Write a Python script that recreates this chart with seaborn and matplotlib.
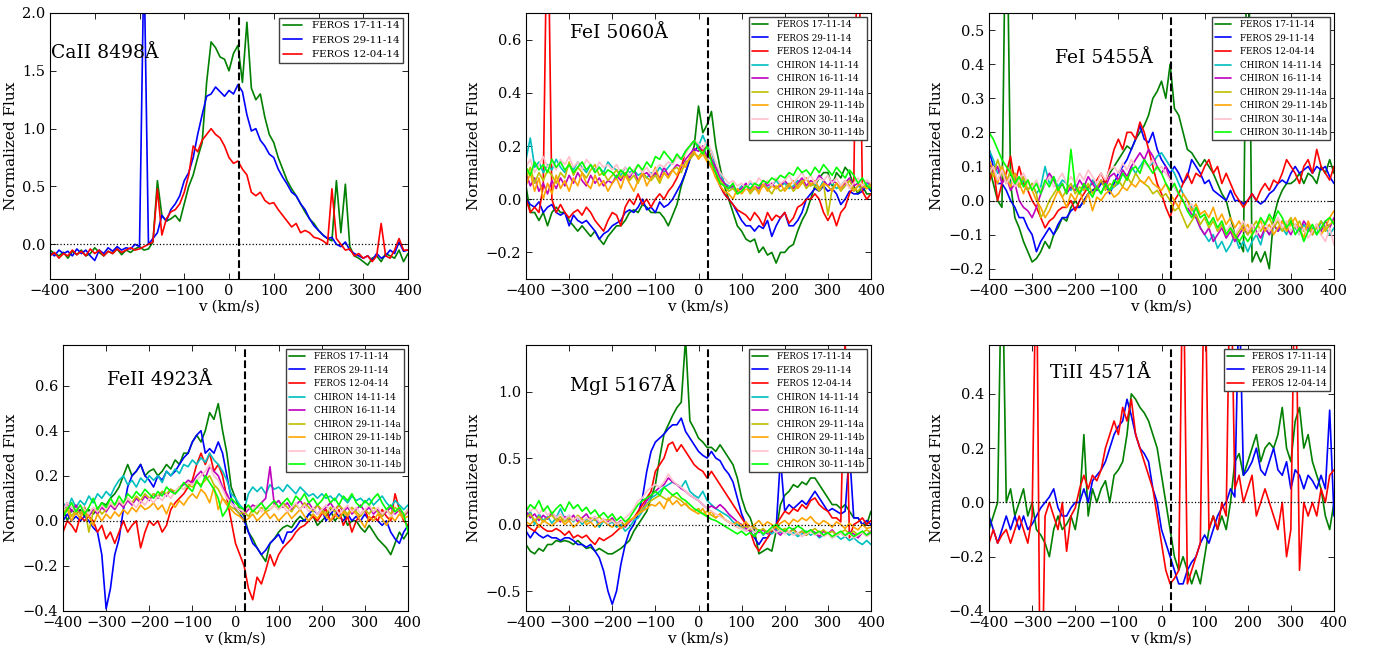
import numpy as np
import pandas as pd
import matplotlib
matplotlib.use("Agg")
import matplotlib.pyplot as plt
import seaborn as sns

# ---------------- data ----------------
V = list(range(-400, 401, 10))  # velocity grid (km/s)

LABELS = ["FEROS 17-11-14", "FEROS 29-11-14", "FEROS 12-04-14",
          "CHIRON 14-11-14", "CHIRON 16-11-14", "CHIRON 29-11-14a",
          "CHIRON 29-11-14b", "CHIRON 30-11-14a", "CHIRON 30-11-14b"]

# ---- CaII 8498
caii_f171114 = [-0.05,-0.08,-0.1,-0.07,-0.12,-0.06,-0.09,-0.05,-0.1,-0.08,
                -0.03,-0.07,-0.1,-0.06,-0.08,-0.04,-0.09,-0.05,-0.07,-0.04,
                -0.02,-0.05,-0.04,0.02,0.55,0.25,0.2,0.22,0.25,0.2,
                0.35,0.5,0.6,0.75,0.88,1.4,1.75,1.7,1.62,1.6,
                1.5,1.65,1.72,1.4,1.92,1.35,1.25,1.3,1.1,0.95,
                0.88,0.75,0.65,0.55,0.48,0.42,0.35,0.28,0.22,0.18,
                0.12,0.08,0.05,0.03,0.55,0.1,0.52,-0.02,-0.1,-0.12,
                -0.15,-0.18,-0.12,-0.1,-0.15,-0.08,-0.1,-0.12,-0.05,-0.15,
                -0.08]
caii_f291114 = [-0.07,-0.1,-0.05,-0.08,-0.06,-0.1,-0.04,-0.08,-0.05,-0.1,
                -0.14,-0.05,-0.08,-0.03,-0.06,-0.02,-0.05,-0.03,-0.04,0.0,
                -0.02,2.5,0.0,0.05,0.1,0.25,0.2,0.3,0.35,0.42,
                0.55,0.62,0.75,0.95,1.12,1.28,1.3,1.36,1.32,1.28,
                1.33,1.3,1.38,1.32,1.12,0.98,1.0,0.9,0.85,0.78,
                0.75,0.65,0.58,0.52,0.45,0.42,0.35,0.3,0.22,0.16,
                0.12,0.08,0.05,0.06,0.0,-0.02,0.02,-0.05,-0.08,-0.1,
                -0.12,-0.1,-0.14,-0.08,-0.12,-0.1,-0.05,-0.08,0.02,-0.06,
                -0.05]
caii_f120414 = [-0.1,-0.07,-0.12,-0.08,-0.1,-0.05,-0.09,-0.06,-0.1,-0.04,
                -0.08,-0.05,-0.1,-0.06,-0.08,-0.04,-0.07,-0.05,-0.03,-0.05,
                -0.04,-0.02,0.0,0.02,0.48,0.08,0.22,0.28,0.3,0.35,
                0.45,0.6,0.85,0.8,0.9,0.95,1.0,0.95,0.92,0.85,
                0.75,0.7,0.72,0.65,0.6,0.45,0.42,0.45,0.38,0.35,
                0.36,0.3,0.25,0.2,0.15,0.18,0.1,0.12,0.1,0.06,
                0.05,0.03,0.0,0.48,0.05,0.0,-0.05,-0.04,-0.1,-0.08,
                -0.12,-0.1,-0.15,-0.1,0.18,-0.1,-0.12,-0.05,0.05,-0.05,
                -0.05]

# ---- FeI 5060
fei5060_f171114 = [0.05,-0.05,-0.05,-0.08,-0.05,-0.1,-0.05,-0.03,-0.05,-0.05,
                   -0.08,-0.1,-0.12,-0.1,-0.12,-0.14,-0.12,-0.15,-0.17,-0.14,
                   -0.12,-0.1,-0.1,-0.08,-0.05,-0.04,-0.05,-0.02,-0.03,-0.05,
                   -0.05,-0.05,-0.07,-0.1,-0.06,-0.02,0.05,0.1,0.15,0.2,
                   0.35,0.25,0.28,0.33,0.2,0.12,0.05,0.0,-0.05,-0.1,
                   -0.12,-0.15,-0.16,-0.15,-0.2,-0.18,-0.21,-0.2,-0.24,-0.2,
                   -0.2,-0.18,-0.17,-0.12,-0.08,-0.05,0.0,0.05,0.08,0.1,
                   0.1,0.05,0.1,0.08,0.12,0.1,0.05,0.02,0.05,0.02,
                   0.02]
fei5060_f291114 = [0.0,-0.02,-0.03,-0.01,-0.05,-0.03,-0.02,-0.05,-0.06,-0.05,
                   -0.1,-0.06,-0.08,-0.09,-0.08,-0.1,-0.12,-0.15,-0.13,-0.12,
                   -0.1,-0.09,-0.08,-0.05,-0.04,-0.05,-0.03,0.0,-0.04,-0.03,
                   -0.05,-0.01,-0.03,-0.02,0.0,0.03,0.06,0.1,0.15,0.18,
                   0.2,0.18,0.15,0.12,0.1,0.05,0.02,0.0,-0.02,-0.05,
                   -0.08,-0.1,-0.1,-0.12,-0.1,-0.11,-0.08,-0.14,-0.1,-0.07,
                   -0.05,-0.1,-0.1,-0.08,-0.05,0.0,0.02,0.04,0.03,0.05,
                   0.03,0.04,0.02,-0.02,0.0,0.03,0.02,0.02,0.03,0.05,
                   0.03]
fei5060_f120414 = [0.0,-0.05,-0.03,-0.05,0.05,1.2,0.0,-0.05,-0.02,-0.05,
                   -0.07,-0.05,-0.04,-0.06,-0.03,-0.05,-0.08,-0.1,-0.12,-0.08,
                   -0.05,-0.06,-0.1,-0.03,0.0,-0.02,0.02,-0.02,0.0,-0.03,
                   0.0,0.02,0.0,0.03,0.05,0.08,0.12,0.18,0.2,0.22,
                   0.2,0.18,0.2,0.15,0.1,0.05,0.02,0.0,-0.02,-0.04,
                   -0.05,-0.06,-0.08,-0.05,-0.07,-0.1,-0.05,-0.08,-0.06,-0.07,
                   -0.05,-0.09,-0.07,-0.03,-0.02,0.0,0.0,0.02,0.0,-0.05,
                   -0.08,-0.05,-0.1,-0.05,-0.03,0.02,0.05,1.2,0.03,0.0,
                   0.02]
fei5060_c141114 = [0.15,0.23,0.12,0.14,0.1,0.13,0.11,0.15,0.12,0.1,
                   0.13,0.11,0.14,0.12,0.1,0.13,0.11,0.12,0.1,0.14,
                   0.12,0.11,0.09,0.12,0.1,0.11,0.09,0.1,0.08,0.1,
                   0.09,0.12,0.1,0.12,0.14,0.16,0.15,0.18,0.2,0.22,
                   0.2,0.24,0.2,0.18,0.12,0.1,0.06,0.05,0.04,0.03,
                   0.05,0.04,0.06,0.05,0.03,0.06,0.04,0.05,0.07,0.05,
                   0.06,0.04,0.05,0.07,0.06,0.08,0.05,0.06,0.04,0.07,
                   0.05,0.06,0.04,0.05,0.07,0.05,0.03,0.05,0.04,0.06,
                   0.05]
fei5060_c161114 = [0.1,0.05,0.08,0.03,0.06,0.02,0.07,0.04,0.08,0.05,
                   0.09,0.06,0.1,0.07,0.05,0.09,0.06,0.08,0.05,0.07,
                   0.06,0.09,0.07,0.1,0.08,0.11,0.07,0.09,0.1,0.08,
                   0.1,0.08,0.12,0.09,0.11,0.13,0.12,0.15,0.17,0.19,
                   0.18,0.2,0.16,0.15,0.12,0.08,0.06,0.04,0.05,0.03,
                   0.04,0.06,0.03,0.05,0.04,0.07,0.05,0.06,0.04,0.05,
                   0.07,0.05,0.04,0.06,0.08,0.05,0.07,0.06,0.09,0.07,
                   0.05,0.07,0.06,0.04,0.06,0.08,0.05,0.06,0.04,0.07,
                   0.05]
fei5060_c291114a = [0.08,0.12,0.06,0.1,0.07,0.11,0.09,0.06,0.1,0.08,
                    0.14,0.09,0.12,0.1,0.08,0.11,0.13,0.09,0.1,0.07,
                    0.09,0.11,0.08,0.1,0.07,0.09,0.06,0.1,0.08,0.07,
                    0.09,0.06,0.1,0.08,0.11,0.12,0.1,0.14,0.15,0.17,
                    0.16,0.18,0.15,0.13,0.1,0.07,0.05,0.03,0.04,0.02,
                    0.03,0.05,0.02,0.04,0.03,0.05,0.04,0.02,0.05,0.03,
                    0.04,0.06,0.03,0.05,0.07,0.04,0.06,0.05,0.03,0.06,
                    -0.06,0.04,0.06,0.03,0.05,0.07,0.04,0.03,0.05,0.04,
                    0.06]
fei5060_c291114b = [0.05,0.1,0.03,0.08,0.0,0.06,0.02,0.09,0.04,0.07,
                    0.03,0.08,0.05,0.1,0.06,0.04,0.09,0.05,0.07,0.03,
                    0.06,0.08,0.04,0.09,0.06,0.03,0.07,0.1,0.05,0.08,
                    0.12,0.07,0.1,0.08,0.11,0.09,0.13,0.12,0.16,0.18,
                    0.15,0.17,0.14,0.12,0.08,0.05,0.03,0.02,0.0,0.04,
                    0.02,0.04,0.03,0.05,0.02,0.06,0.03,0.05,0.04,0.06,
                    0.03,0.05,0.07,0.04,0.06,0.08,0.05,0.07,0.04,0.06,
                    0.05,0.03,0.06,0.04,0.07,0.05,0.03,0.05,0.06,0.04,
                    0.05]
fei5060_c301114a = [0.12,0.15,0.1,0.13,0.16,0.12,0.14,0.11,0.15,0.13,
                    0.16,0.12,0.14,0.11,0.15,0.13,0.1,0.14,0.12,0.13,
                    0.11,0.13,0.1,0.12,0.09,0.11,0.13,0.1,0.12,0.09,
                    0.11,0.13,0.12,0.14,0.13,0.16,0.15,0.17,0.2,0.22,
                    0.21,0.19,0.22,0.18,0.14,0.1,0.08,0.06,0.07,0.05,
                    0.06,0.04,0.07,0.05,0.08,0.06,0.07,0.05,0.08,0.06,
                    0.07,0.09,0.06,0.08,0.1,0.07,0.09,0.06,0.08,0.07,
                    0.09,0.06,0.08,0.05,0.07,0.04,0.06,0.08,0.05,0.07,
                    0.06]
fei5060_c301114b = [0.12,0.09,0.14,0.11,0.13,0.1,0.15,0.12,0.14,0.11,
                    0.13,0.1,0.12,0.14,0.11,0.13,0.1,0.12,0.09,0.11,
                    0.1,0.08,0.11,0.09,0.12,0.1,0.13,0.11,0.14,0.12,
                    0.16,0.15,0.18,0.16,0.14,0.17,0.15,0.18,0.2,0.22,
                    0.19,0.17,0.2,0.14,0.1,0.06,0.05,0.04,0.06,0.02,
                    0.03,0.05,0.04,0.06,0.05,0.07,0.06,0.08,0.07,0.09,
                    0.08,0.1,0.09,0.12,0.1,0.11,0.09,0.12,0.1,0.13,
                    0.11,0.09,0.12,0.1,0.08,0.11,0.09,0.06,0.08,0.05,
                    0.04]

# ---- FeI 5455
fei5455_f171114 = [0.1,0.05,0.0,-0.02,1.0,0.05,-0.05,-0.08,-0.12,-0.15,
                   -0.18,-0.17,-0.15,-0.12,-0.14,-0.1,-0.08,-0.05,-0.06,-0.02,
                   0.0,-0.02,0.0,0.02,0.03,0.04,0.05,0.06,0.08,0.1,
                   0.12,0.14,0.16,0.15,0.18,0.2,0.22,0.25,0.3,0.32,
                   0.35,0.3,0.4,0.27,0.25,0.2,0.15,0.14,0.12,0.1,
                   0.12,0.1,0.08,0.05,0.02,0.0,-0.05,-0.1,-0.12,-0.15,
                   1.0,-0.18,-0.15,-0.18,-0.15,-0.2,-0.05,0.0,0.03,0.05,
                   0.05,0.06,0.08,0.05,0.08,0.07,0.05,0.1,0.08,0.12,
                   0.08]
fei5455_f291114 = [0.15,0.1,0.05,0.05,0.03,0.0,-0.02,-0.05,-0.05,-0.08,
                   -0.1,-0.15,-0.12,-0.1,-0.08,-0.1,-0.07,-0.05,-0.05,-0.03,
                   -0.02,-0.02,0.0,0.02,0.03,0.03,0.05,0.05,0.02,0.05,
                   0.08,0.1,0.12,0.15,0.18,0.22,0.18,0.17,0.2,0.15,
                   0.12,0.1,0.08,0.1,0.08,0.05,0.07,0.12,0.1,0.08,
                   0.05,0.06,0.03,0.02,0.01,0.0,0.03,0.0,0.0,-0.01,
                   0.0,0.02,0.0,-0.01,0.0,0.02,0.03,0.05,0.06,0.05,
                   0.08,0.1,0.08,0.09,0.1,0.08,0.1,0.09,0.1,0.07,
                   0.05]
fei5455_f120414 = [0.05,0.1,0.0,0.05,0.08,0.13,0.05,0.1,0.05,0.03,
                   0.0,-0.02,-0.05,-0.08,-0.06,-0.05,-0.03,-0.02,-0.02,0.0,
                   -0.03,0.0,0.02,0.04,0.05,0.06,0.08,0.05,0.1,0.15,
                   0.18,0.15,0.2,0.2,0.18,0.23,0.2,0.15,0.1,0.05,
                   0.02,-0.02,-0.05,0.0,0.02,0.05,0.08,0.05,0.08,0.07,
                   0.1,0.12,0.08,0.1,0.05,0.08,0.05,0.02,0.0,-0.02,
                   0.0,0.02,0.0,0.03,0.05,0.03,0.06,0.05,0.08,0.12,
                   0.1,0.08,0.05,0.1,0.12,0.08,0.15,0.1,0.08,0.06,
                   0.1]
fei5455_c141114 = [0.15,0.12,0.08,0.1,0.06,0.05,0.08,0.04,0.06,0.03,
                   0.05,0.02,0.04,0.1,0.05,0.07,0.04,0.06,0.05,0.03,
                   0.05,0.02,0.04,0.03,0.06,0.04,0.02,0.05,0.03,0.04,
                   0.05,0.08,0.06,0.1,0.08,0.1,0.12,0.1,0.11,0.13,
                   0.14,0.12,0.1,0.08,0.05,0.02,0.0,-0.02,-0.05,-0.08,
                   -0.1,-0.12,-0.1,-0.14,-0.12,-0.15,-0.13,-0.1,-0.14,-0.12,
                   -0.15,-0.12,-0.1,-0.13,-0.08,-0.1,-0.07,-0.09,-0.08,-0.1,
                   -0.06,-0.08,-0.1,-0.07,-0.09,-0.08,-0.1,-0.06,-0.08,-0.1,
                   -0.08]
fei5455_c161114 = [0.12,0.08,0.1,0.05,0.07,0.03,0.05,0.0,-0.02,-0.03,
                   -0.05,-0.02,0.02,0.05,0.08,0.06,0.03,0.05,0.02,0.04,
                   0.03,0.06,0.04,0.07,0.05,0.03,0.06,0.04,0.07,0.08,
                   0.06,0.09,0.07,0.1,0.12,0.14,0.12,0.15,0.13,0.1,
                   0.08,0.1,0.06,0.04,0.02,0.0,-0.02,-0.04,-0.05,-0.08,
                   -0.1,-0.08,-0.12,-0.1,-0.08,-0.11,-0.09,-0.12,-0.1,-0.08,
                   -0.1,-0.07,-0.09,-0.11,-0.08,-0.1,-0.07,-0.09,-0.06,-0.08,
                   -0.1,-0.07,-0.09,-0.06,-0.08,-0.1,-0.07,-0.09,-0.06,-0.08,
                   -0.05]
fei5455_c291114a = [0.1,0.07,0.12,0.08,0.05,0.09,0.06,0.04,0.07,0.03,
                    0.05,0.02,-0.05,-0.03,0.0,0.02,0.04,0.01,0.03,0.05,
                    0.02,0.04,0.03,0.05,0.02,0.04,0.06,0.03,0.05,0.04,
                    0.06,0.04,0.07,0.05,0.08,0.06,0.05,0.04,0.02,0.03,
                    0.01,0.02,0.0,-0.03,-0.02,-0.05,-0.08,-0.06,-0.04,-0.07,
                    -0.05,-0.08,-0.06,-0.09,-0.07,-0.1,-0.08,-0.11,-0.09,-0.07,
                    -0.1,-0.08,-0.06,-0.09,-0.07,-0.05,-0.08,-0.06,-0.09,-0.07,
                    -0.05,-0.08,-0.06,-0.09,-0.07,-0.1,-0.08,-0.06,-0.09,-0.07,
                    -0.06]
fei5455_c291114b = [0.12,0.09,0.05,0.1,0.07,0.04,0.08,0.05,0.02,0.06,
                    0.03,0.0,-0.02,-0.05,-0.03,0.0,0.03,0.01,-0.02,0.02,
                    0.0,0.03,-0.01,0.02,-0.03,0.01,0.0,0.02,0.03,0.01,
                    0.02,0.04,0.03,0.05,0.04,0.06,0.05,0.07,0.05,0.04,
                    0.03,0.05,0.02,0.0,-0.02,0.02,0.0,-0.03,-0.01,-0.04,
                    -0.03,-0.05,-0.02,-0.06,-0.04,-0.07,-0.05,-0.08,-0.06,-0.09,
                    -0.07,-0.1,-0.08,-0.06,-0.09,-0.07,-0.1,-0.08,-0.06,-0.09,
                    -0.07,-0.05,-0.08,-0.11,-0.06,-0.09,-0.07,-0.1,-0.08,-0.05,
                    -0.03]
fei5455_c301114a = [0.08,0.1,0.06,0.09,0.05,0.07,0.04,0.06,0.08,0.05,
                    0.04,0.06,0.03,0.05,0.07,0.04,0.06,0.08,0.05,0.07,
                    0.05,0.08,0.06,0.09,0.07,0.05,0.08,0.06,0.09,0.1,
                    0.08,0.11,0.09,0.12,0.1,0.08,0.11,0.1,0.12,0.09,
                    0.1,0.08,0.06,0.04,0.02,0.0,-0.02,-0.01,-0.03,-0.05,
                    -0.04,-0.07,-0.05,-0.08,-0.06,-0.09,-0.07,-0.1,-0.08,-0.06,
                    -0.09,-0.07,-0.1,-0.08,-0.06,-0.09,-0.07,-0.05,-0.08,-0.06,
                    -0.09,-0.07,-0.1,-0.08,-0.11,-0.09,-0.07,-0.1,-0.12,-0.08,
                    -0.13]
fei5455_c301114b = [0.2,0.18,0.15,0.12,0.1,0.08,0.05,0.07,0.04,0.06,
                    0.03,0.05,0.02,0.06,0.04,0.07,0.03,0.05,0.02,0.15,
                    0.04,0.02,0.05,0.03,0.01,0.04,0.02,0.05,0.03,0.06,
                    0.05,0.08,0.06,0.09,0.1,0.08,0.12,0.1,0.08,0.1,
                    0.08,0.05,0.03,0.05,0.02,0.0,-0.03,-0.05,-0.02,-0.05,
                    -0.04,-0.07,-0.05,-0.08,-0.06,-0.1,-0.08,-0.1,-0.12,-0.1,
                    -0.12,-0.1,-0.08,-0.05,-0.07,-0.04,-0.06,-0.03,-0.05,-0.08,
                    -0.06,-0.1,-0.08,-0.12,-0.09,-0.07,-0.1,-0.08,-0.06,-0.05,
                    -0.07]

# ---- FeII 4923
feii_f171114 = [0.05,0.0,0.05,0.03,0.05,0.02,0.05,0.03,0.05,0.08,
                0.07,0.1,0.12,0.15,0.2,0.25,0.2,0.22,0.25,0.2,
                0.22,0.23,0.2,0.22,0.25,0.23,0.27,0.25,0.3,0.3,
                0.35,0.38,0.35,0.4,0.48,0.45,0.52,0.4,0.3,0.15,
                0.1,0.05,0.02,-0.05,-0.08,-0.12,-0.15,-0.18,-0.1,-0.08,
                -0.05,-0.03,-0.02,-0.03,0.0,0.02,0.0,0.03,0.02,-0.02,
                0.0,0.02,0.05,0.0,0.02,0.03,-0.02,0.0,0.0,-0.03,
                -0.05,-0.02,-0.05,-0.08,-0.1,-0.12,-0.15,-0.1,-0.05,-0.08,
                -0.05]
feii_f291114 = [0.0,0.03,0.0,0.02,0.0,0.02,0.0,-0.03,-0.05,-0.15,
                -0.39,-0.3,-0.15,-0.08,0.05,0.15,0.2,0.22,0.25,0.2,
                0.18,0.15,0.2,0.18,0.22,0.2,0.22,0.25,0.28,0.3,
                0.35,0.38,0.4,0.3,0.32,0.3,0.35,0.3,0.2,0.1,
                0.05,0.03,0.0,-0.05,-0.1,-0.12,-0.15,-0.13,-0.1,-0.08,
                -0.06,-0.1,-0.05,-0.05,-0.03,0.0,0.0,0.03,0.05,0.03,
                0.05,0.0,0.03,0.05,0.02,0.0,0.03,0.0,0.02,0.0,
                0.03,0.0,0.02,0.0,-0.02,0.0,-0.05,-0.08,-0.1,-0.05,
                -0.02]
feii_f120414 = [-0.05,0.0,-0.02,-0.05,0.02,0.0,0.02,0.0,-0.05,-0.02,
                -0.08,-0.05,-0.1,-0.05,0.0,-0.05,-0.02,0.0,-0.12,-0.05,
                0.0,-0.02,0.0,-0.05,-0.02,0.05,0.08,0.1,0.12,0.15,
                0.18,0.25,0.3,0.25,0.3,0.22,0.25,0.2,0.1,0.0,
                -0.1,-0.15,-0.2,-0.3,-0.35,-0.25,-0.28,-0.22,-0.15,-0.2,
                -0.15,-0.12,-0.1,-0.08,-0.05,-0.03,-0.02,0.0,0.02,0.0,
                0.03,0.05,0.0,0.02,0.05,-0.02,0.02,-0.05,0.0,0.03,
                0.05,0.0,0.02,0.0,0.05,0.02,0.0,0.12,0.05,0.0,
                -0.02]
feii_c141114 = [0.08,0.05,0.1,0.06,0.09,0.07,0.11,0.08,0.12,0.1,
                0.13,0.11,0.15,0.18,0.2,0.16,0.18,0.15,0.19,0.17,
                0.2,0.18,0.2,0.17,0.22,0.2,0.23,0.21,0.25,0.24,
                0.27,0.25,0.28,0.26,0.3,0.27,0.25,0.22,0.18,0.12,
                0.1,0.07,0.05,0.12,0.15,0.13,0.15,0.12,0.16,0.14,
                0.15,0.13,0.16,0.14,0.12,0.15,0.13,0.11,0.12,0.1,
                0.12,0.1,0.11,0.09,0.12,0.1,0.08,0.11,0.09,0.1,
                0.08,0.1,0.07,0.09,0.11,0.08,0.06,0.09,0.07,0.05,
                0.07]
feii_c161114 = [0.05,0.08,0.04,0.07,0.03,0.06,0.02,0.05,0.03,0.06,
                0.04,0.07,0.05,0.08,0.06,0.09,0.07,0.1,0.08,0.11,
                0.09,0.12,0.1,0.13,0.11,0.14,0.12,0.15,0.16,0.18,
                0.17,0.2,0.22,0.19,0.24,0.22,0.2,0.15,0.12,0.08,
                0.06,0.05,0.03,0.05,0.07,0.06,0.08,0.1,0.24,0.07,
                0.09,0.06,0.08,0.05,0.07,0.09,0.06,0.08,0.05,0.07,
                0.04,0.06,0.08,0.05,0.07,0.04,0.06,0.03,0.05,0.07,
                0.04,0.06,0.03,0.05,0.02,0.04,0.06,0.03,0.05,0.02,
                0.04]
feii_c291114a = [0.03,0.06,0.02,0.05,0.03,0.06,-0.05,0.04,0.06,0.03,
                 0.05,0.08,0.06,0.09,0.07,0.1,0.08,0.11,0.09,0.12,
                 0.1,0.12,0.11,0.13,0.12,0.14,0.13,0.15,0.14,0.16,
                 0.15,0.17,0.16,0.18,0.2,0.16,0.14,0.1,0.08,0.06,
                 0.05,0.03,0.04,0.02,0.05,0.03,0.06,0.04,0.05,0.07,
                 0.05,0.08,0.06,0.04,0.07,0.05,0.08,0.06,0.04,0.07,
                 0.05,0.03,0.06,0.04,0.07,0.05,0.03,0.06,0.04,0.02,
                 0.05,0.03,0.06,0.04,0.02,0.05,0.03,0.06,0.04,0.02,
                 0.05]
feii_c291114b = [0.02,0.05,0.0,0.04,0.01,0.05,0.02,-0.02,0.03,0.0,
                 0.03,0.01,0.04,0.02,0.05,0.03,0.06,0.04,0.07,0.05,
                 0.06,0.08,0.05,0.07,0.03,0.08,0.06,0.09,0.07,0.1,
                 0.12,0.1,0.14,0.12,0.08,0.15,0.05,0.1,0.07,0.05,
                 0.03,0.02,0.0,0.01,0.03,0.0,0.02,0.04,0.01,0.03,
                 0.0,0.02,0.04,0.01,0.03,0.05,0.02,0.0,0.03,0.01,
                 0.04,0.02,0.0,0.03,0.01,0.04,0.02,0.05,0.03,0.0,
                 -0.03,0.02,0.0,0.03,0.01,-0.02,0.02,0.0,0.03,0.01,
                 0.02]
feii_c301114a = [0.05,0.08,0.06,0.04,0.07,0.05,0.03,0.06,0.04,0.07,
                 0.05,0.08,0.06,0.09,0.07,0.1,0.08,0.06,0.09,0.07,
                 0.1,0.08,0.11,0.09,0.12,0.1,0.13,0.15,0.14,0.17,
                 0.16,0.18,0.2,0.22,0.25,0.2,0.18,0.14,0.1,0.08,
                 0.06,0.05,0.04,0.06,0.05,0.07,0.04,0.06,0.05,0.07,
                 0.05,0.07,0.04,0.06,0.08,0.05,0.07,0.04,0.06,0.03,
                 0.05,0.07,0.04,0.06,0.03,0.05,0.07,0.04,0.06,0.03,
                 0.05,0.07,0.04,0.06,0.03,0.05,0.02,0.04,0.06,0.03,
                 0.05]
feii_c301114b = [0.02,0.05,0.08,0.04,0.07,0.03,0.06,0.1,0.05,0.08,
                 0.06,0.1,0.07,0.11,0.08,0.12,0.1,0.13,0.11,0.14,
                 0.12,0.1,0.13,0.11,0.15,0.13,0.12,0.14,0.17,0.15,
                 0.13,0.18,0.15,0.2,0.17,0.14,0.1,0.02,0.05,0.1,
                 0.08,0.06,0.05,0.07,0.04,0.06,0.08,0.05,0.07,0.09,
                 0.06,0.08,0.1,0.07,0.11,0.09,0.12,0.08,0.1,0.07,
                 0.09,0.12,0.08,0.1,0.07,0.11,0.09,0.12,0.08,0.06,
                 0.09,0.07,0.1,0.12,0.08,0.05,0.07,0.04,0.06,0.03,
                 -0.05]

# ---- MgI 5167
mgi_f171114 = [-0.15,-0.2,-0.22,-0.18,-0.2,-0.15,-0.15,-0.12,-0.13,-0.12,
               -0.13,-0.15,-0.12,-0.15,-0.18,-0.17,-0.2,-0.18,-0.2,-0.22,
               -0.22,-0.2,-0.18,-0.15,-0.12,-0.05,0.0,0.05,0.1,0.2,
               0.3,0.5,0.68,0.75,0.82,0.88,0.92,1.4,0.78,0.72,
               0.65,0.62,0.58,0.58,0.55,0.6,0.55,0.5,0.45,0.35,
               0.2,0.1,0.05,-0.05,-0.22,-0.2,-0.18,-0.2,-0.05,0.15,
               0.22,0.25,0.3,0.28,0.32,0.3,0.35,0.35,0.3,0.25,
               0.2,0.15,0.15,0.12,0.15,0.1,0.05,0.05,0.0,0.0,
               0.1]
mgi_f291114 = [-0.05,-0.1,-0.05,-0.08,-0.1,-0.08,-0.1,-0.1,-0.12,-0.1,
               -0.1,-0.12,-0.15,-0.15,-0.17,-0.15,-0.2,-0.25,-0.35,-0.5,
               -0.6,-0.5,-0.3,-0.15,-0.05,0.0,0.08,0.2,0.4,0.55,
               0.62,0.65,0.68,0.72,0.75,0.75,0.8,0.7,0.65,0.6,
               0.55,0.52,0.5,0.55,0.5,0.48,0.42,0.38,0.32,0.2,
               0.08,0.0,-0.05,-0.1,-0.15,-0.1,-0.1,-0.05,-0.03,0.5,
               0.1,0.15,0.12,0.15,0.18,0.15,0.2,0.25,0.2,0.15,
               0.1,0.12,0.1,0.08,0.1,0.55,0.05,0.05,0.0,0.03,
               0.0]
mgi_f120414 = [0.0,-0.03,-0.05,0.0,-0.03,-0.05,-0.05,-0.03,-0.05,-0.08,
               -0.05,-0.1,-0.08,-0.1,-0.08,-0.12,-0.15,-0.1,-0.12,-0.1,
               -0.08,-0.05,-0.02,0.0,0.03,0.05,0.1,0.15,0.2,0.25,
               0.4,0.45,0.5,0.6,0.62,0.55,0.6,0.55,0.5,0.45,
               0.42,0.4,0.35,0.4,0.35,0.3,0.25,0.2,0.15,0.1,
               0.05,0.0,-0.05,-0.15,-0.2,-0.15,-0.1,-0.05,0.0,0.05,
               0.1,0.08,0.12,0.1,0.15,0.12,0.18,0.2,0.15,0.12,
               0.1,0.05,0.05,0.02,1.4,-0.1,0.0,0.02,0.05,0.0,
               0.03]
mgi_c141114 = [0.05,0.1,0.0,0.08,0.03,0.06,0.01,0.05,0.12,0.04,
               0.07,0.02,0.06,0.0,0.04,0.02,0.05,-0.02,0.03,0.0,
               0.02,-0.02,0.0,-0.05,-0.02,0.03,0.05,0.1,0.15,0.2,
               0.22,0.25,0.28,0.3,0.32,0.3,0.28,0.33,0.25,0.22,
               0.2,0.25,0.18,0.15,0.12,0.1,0.08,0.06,0.02,0.0,
               -0.02,-0.05,-0.03,-0.06,-0.04,-0.08,-0.05,-0.07,-0.04,-0.06,
               -0.05,-0.08,-0.06,-0.09,-0.07,-0.05,-0.08,-0.06,-0.1,-0.08,
               -0.06,-0.1,-0.08,-0.11,-0.09,-0.12,-0.1,-0.13,-0.15,-0.12,
               -0.15]
mgi_c161114 = [0.1,0.05,0.08,0.03,0.07,0.04,0.09,0.05,0.02,0.06,
               0.03,0.07,0.02,0.05,0.08,0.03,0.06,0.01,0.04,0.02,
               0.05,0.0,0.03,-0.02,0.02,0.05,0.08,0.12,0.18,0.22,
               0.25,0.28,0.3,0.35,0.32,0.3,0.27,0.25,0.22,0.2,
               0.18,0.15,0.12,0.14,0.12,0.15,0.12,0.08,0.05,0.02,
               0.0,-0.03,-0.05,-0.02,-0.06,-0.04,-0.07,-0.03,-0.05,-0.08,
               -0.04,-0.06,-0.03,-0.07,-0.05,-0.08,-0.04,-0.06,-0.09,-0.05,
               -0.07,-0.04,-0.08,-0.06,-0.09,-0.05,-0.07,-0.1,-0.06,-0.08,
               -0.05]
mgi_c291114a = [0.05,0.08,0.03,0.06,0.02,0.05,0.07,0.03,0.06,0.02,
                0.05,0.03,0.07,0.04,0.02,0.05,0.03,0.06,0.02,0.04,
                0.03,0.0,0.02,-0.01,0.03,0.05,0.08,0.12,0.15,0.18,
                0.2,0.22,0.2,0.18,0.22,0.2,0.18,0.15,0.12,0.1,
                0.12,0.08,0.1,0.07,0.05,0.08,0.04,0.02,0.0,-0.02,
                -0.03,-0.01,-0.04,-0.02,-0.05,-0.03,-0.06,-0.04,-0.02,-0.05,
                -0.03,-0.06,-0.04,-0.07,-0.05,-0.08,-0.05,-0.03,-0.06,-0.04,
                -0.07,-0.05,-0.08,-0.06,-0.04,-0.07,-0.05,-0.08,-0.06,-0.04,
                -0.06]
mgi_c291114b = [0.02,0.0,0.04,-0.02,0.03,0.01,-0.01,0.02,0.04,0.0,
                0.03,-0.02,0.01,0.04,0.0,0.02,-0.02,0.01,0.03,0.0,
                -0.02,0.01,-0.03,0.0,0.03,0.05,0.08,0.1,0.12,0.15,
                0.14,0.17,0.12,0.2,0.15,0.18,0.14,0.16,0.12,0.1,
                0.08,0.12,0.06,0.1,0.05,0.08,0.04,0.02,0.0,0.02,
                -0.01,0.02,-0.02,0.0,0.03,-0.01,0.02,0.0,-0.02,0.01,
                0.03,0.0,0.04,0.02,0.05,0.03,0.06,0.02,0.0,0.03,
                0.01,-0.02,0.02,0.0,-0.03,0.01,-0.02,-0.04,0.0,-0.03,
                -0.02]
mgi_c301114a = [0.15,0.1,0.13,0.08,0.12,0.07,0.1,0.05,0.08,0.04,
                0.07,0.03,0.06,0.02,0.05,0.03,0.06,0.02,0.04,0.01,
                0.03,0.0,0.02,0.05,0.08,0.12,0.18,0.2,0.25,0.28,
                0.3,0.28,0.32,0.38,0.33,0.3,0.28,0.25,0.22,0.2,
                0.18,0.15,0.12,0.1,0.08,0.06,0.04,0.02,0.0,-0.02,
                -0.03,-0.05,-0.02,-0.06,-0.04,-0.07,-0.05,-0.03,-0.06,-0.04,
                -0.07,-0.05,-0.08,-0.06,-0.09,-0.07,-0.05,-0.08,-0.06,-0.09,
                -0.07,-0.1,-0.08,-0.06,-0.09,-0.07,-0.1,-0.08,-0.06,-0.09,
                -0.07]
mgi_c301114b = [0.1,0.15,0.12,0.18,0.1,0.14,0.08,0.12,0.15,0.1,
                0.17,0.12,0.15,0.1,0.13,0.08,0.11,0.06,0.09,0.05,
                0.08,0.03,0.06,0.02,0.05,0.1,0.15,0.18,0.2,0.22,
                0.25,0.22,0.28,0.25,0.22,0.24,0.2,0.18,0.15,0.12,
                0.1,0.08,0.06,0.04,0.03,0.01,-0.01,-0.03,-0.05,-0.07,
                -0.05,-0.08,-0.06,-0.09,-0.04,-0.07,-0.05,-0.02,0.0,-0.03,
                -0.05,-0.02,-0.04,-0.01,-0.03,-0.06,-0.04,-0.07,-0.05,-0.08,
                -0.06,-0.09,-0.07,-0.05,-0.08,-0.06,-0.09,-0.07,-0.05,-0.08,
                -0.06]

# ---- TiII 4571
tiii_f171114 = [-0.1,-0.05,0.0,1.0,0.0,0.05,-0.05,0.0,0.05,-0.05,
                0.0,-0.1,-0.12,-0.15,-0.2,-0.1,-0.05,-0.1,-0.08,-0.05,
                -0.1,0.0,0.25,-0.05,0.05,0.0,0.05,0.08,0.0,0.1,
                0.12,0.15,0.25,0.4,0.38,0.35,0.33,0.3,0.25,0.2,
                0.1,0.0,-0.1,-0.2,-0.25,-0.2,-0.25,-0.3,-0.25,-0.3,
                -0.2,-0.1,-0.05,-0.1,-0.05,-0.1,0.0,0.15,0.18,0.1,
                0.15,0.2,0.25,0.15,0.2,0.22,0.2,0.25,0.35,0.2,
                0.15,0.3,0.35,0.2,0.25,0.15,0.1,0.05,-0.05,-0.1,
                0.0]
tiii_f291114 = [-0.05,-0.1,-0.15,-0.1,-0.05,-0.1,-0.05,-0.1,-0.05,-0.1,
                -0.08,-0.05,-0.02,0.0,0.02,0.05,-0.02,-0.05,-0.05,-0.02,
                0.0,0.0,0.05,0.0,0.08,0.1,0.12,0.15,0.2,0.25,
                0.28,0.3,0.38,0.32,0.25,0.2,0.18,0.15,0.05,0.0,
                -0.1,-0.15,-0.2,-0.25,-0.3,-0.3,-0.25,-0.22,-0.2,-0.15,
                -0.12,-0.15,-0.1,-0.05,-0.02,0.0,0.05,0.02,0.8,0.1,
                0.12,0.15,0.2,0.12,0.1,0.15,0.2,0.12,0.1,0.15,
                0.05,0.12,0.1,0.05,0.1,0.08,0.05,0.1,0.05,0.34,
                -0.05]
tiii_f120414 = [-0.15,-0.1,-0.15,-0.12,-0.1,-0.15,-0.1,-0.05,-0.1,-0.15,
                -0.05,1.0,-1.0,-0.05,0.0,-0.05,-0.1,0.0,-0.18,-0.05,
                -0.02,0.05,0.1,0.05,0.1,0.08,0.12,0.2,0.25,0.3,
                0.25,0.35,0.3,0.38,0.25,0.2,0.15,0.1,0.05,-0.05,
                -0.15,-0.25,-0.3,-0.28,-0.25,1.0,-0.3,-0.25,-0.2,-0.15,
                1.0,-0.1,-0.05,-0.1,0.0,-0.05,1.0,0.05,0.1,0.0,
                0.05,0.1,-0.05,0.0,0.05,0.0,-0.05,-0.1,0.0,-0.2,
                -0.1,1.0,-0.25,0.0,-0.05,0.0,-0.05,0.05,0.0,0.1,
                0.12]

COLORS = ["#008000", "#0000ff", "#ff0000", "#00bfbf", "#bf00bf",
          "#bfbf00", "#ffa500", "#ffc0cb", "#00ff00"]

PANELS = [
    ("CaII 8498Å", [caii_f171114, caii_f291114, caii_f120414],
     (-0.3, 2.0), [0.0, 0.5, 1.0, 1.5, 2.0], (0.003, 0.85), 7.4),
    ("FeI 5060Å", [fei5060_f171114, fei5060_f291114, fei5060_f120414,
                   fei5060_c141114, fei5060_c161114, fei5060_c291114a,
                   fei5060_c291114b, fei5060_c301114a, fei5060_c301114b],
     (-0.3, 0.7), [-0.2, 0.0, 0.2, 0.4, 0.6], (0.128, 0.925), 6.3),
    ("FeI 5455Å", [fei5455_f171114, fei5455_f291114, fei5455_f120414,
                   fei5455_c141114, fei5455_c161114, fei5455_c291114a,
                   fei5455_c291114b, fei5455_c301114a, fei5455_c301114b],
     (-0.23, 0.55), [-0.2, -0.1, 0.0, 0.1, 0.2, 0.3, 0.4, 0.5], (0.19, 0.83), 6.3),
    ("FeII 4923Å", [feii_f171114, feii_f291114, feii_f120414,
                    feii_c141114, feii_c161114, feii_c291114a,
                    feii_c291114b, feii_c301114a, feii_c301114b],
     (-0.4, 0.78), [-0.4, -0.2, 0.0, 0.2, 0.4, 0.6], (0.127, 0.868), 6.3),
    ("MgI 5167Å", [mgi_f171114, mgi_f291114, mgi_f120414,
                   mgi_c141114, mgi_c161114, mgi_c291114a,
                   mgi_c291114b, mgi_c301114a, mgi_c301114b],
     (-0.65, 1.35), [-0.5, 0.0, 0.5, 1.0], (0.128, 0.85), 6.3),
    ("TiII 4571Å", [tiii_f171114, tiii_f291114, tiii_f120414],
     (-0.4, 0.58), [-0.4, -0.2, 0.0, 0.2, 0.4], (0.177, 0.895), 6.3),
]

AX_RECTS = [
    [50 / 1374, 376 / 655, 358 / 1374, 266 / 655],
    [526 / 1374, 376 / 655, 345 / 1374, 266 / 655],
    [989 / 1374, 376 / 655, 345 / 1374, 266 / 655],
    [63 / 1374, 44 / 655, 345 / 1374, 266 / 655],
    [526 / 1374, 44 / 655, 345 / 1374, 266 / 655],
    [989 / 1374, 44 / 655, 345 / 1374, 266 / 655],
]

# ---------------- style ----------------
sns.set_theme(style="white")
plt.rcParams.update({
    "font.family": ["DejaVu Serif"],
    "axes.edgecolor": "black",
    "axes.linewidth": 0.8,
    "axes.labelcolor": "black",
    "text.color": "black",
    "xtick.color": "black",
    "ytick.color": "black",
    "xtick.direction": "in",
    "ytick.direction": "in",
    "xtick.top": True,
    "ytick.right": True,
    "xtick.bottom": True,
    "ytick.left": True,
    "xtick.major.size": 4,
    "ytick.major.size": 4,
    "xtick.major.width": 0.6,
    "ytick.major.width": 0.6,
    "xtick.major.pad": 3.5,
    "ytick.major.pad": 3.5,
    "xtick.labelsize": 10.5,
    "ytick.labelsize": 10.5,
    "axes.labelsize": 11,
    "axes.unicode_minus": True,
    "axes.grid": False,
})

fig = plt.figure(figsize=(13.74, 6.55), dpi=100, facecolor="white")

for rect, (title, series, ylim, yticks, tpos, lfs) in zip(AX_RECTS, PANELS):
    ax = fig.add_axes(rect)
    for vals, lab, col in zip(series, LABELS, COLORS):
        df = pd.DataFrame({"v": V, "flux": vals})
        sns.lineplot(data=df, x="v", y="flux", ax=ax, color=col, label=lab,
                     linewidth=1.2, estimator=None, sort=False)
    ax.axhline(0.0, color="black", linestyle=":", linewidth=0.9, zorder=5)
    ax.axvline(23, color="black", linestyle="--", linewidth=1.5, zorder=6)
    ax.set_xlim(-400, 400)
    ax.set_ylim(*ylim)
    ax.set_xticks([-400, -300, -200, -100, 0, 100, 200, 300, 400])
    ax.set_yticks(yticks)
    ax.set_xlabel("v (km/s)", labelpad=1)
    ax.set_ylabel("Normalized Flux", labelpad=3)
    ax.text(tpos[0], tpos[1], title, transform=ax.transAxes, fontsize=13.5,
            ha="left", va="center")
    leg = ax.legend(loc="upper right", fontsize=lfs, frameon=True,
                    fancybox=False, framealpha=1, edgecolor="0.25",
                    borderaxespad=0.45, handlelength=1.85, labelspacing=0.52,
                    borderpad=0.35, handletextpad=1.0)
    leg.get_frame().set_linewidth(1.0)
    for spine in ax.spines.values():
        spine.set_visible(True)
        spine.set_color("black")

fig.savefig("out.png", dpi=100, facecolor="white")
